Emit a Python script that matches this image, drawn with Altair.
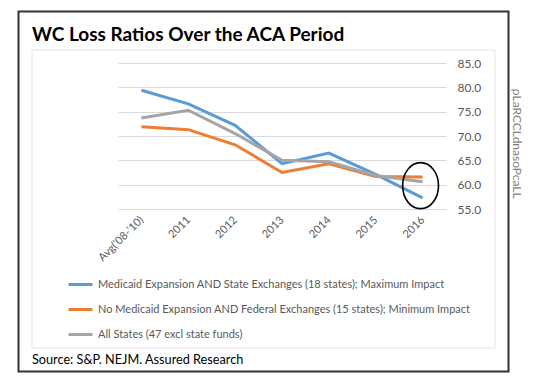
import altair as alt
import pandas as pd

# ---- data ----
periods = ["Avg('08-'10)", "2011", "2012", "2013", "2014", "2015", "2016"]
series_names = [
    "Medicaid Expansion AND State Exchanges (18 states); Maximum Impact",
    "No Medicaid Expansion AND Federal Exchanges (15 states); Minimum Impact",
    "All States (47 excl state funds)",
]
medicaid_max = [79.4, 76.6, 72.2, 64.3, 66.5, 62.1, 57.3]
no_medicaid_min = [71.9, 71.3, 68.2, 62.5, 64.3, 61.7, 61.6]
all_states = [73.7, 75.3, 70.5, 65.0, 64.7, 61.9, 60.6]
series_colors = ["#5B9BD5", "#ED7D31", "#A5A5A5"]
y_ticks = [55, 60, 65, 70, 75, 80, 85]

title_text = "WC Loss Ratios Over the ACA Period"
source_text = "Source: S&P. NEJM. Assured Research"
side_text = "\u03c1LaRCCLdnasoPcaLL"
highlight_period = "2016"
highlight_value = 59.8

FONT = "Lato"
GREY_TXT = "#595959"

rows = []
for name, vals in zip(series_names, [medicaid_max, no_medicaid_min, all_states]):
    for p, v in zip(periods, vals):
        rows.append({"period": p, "value": v, "series": name})
df = pd.DataFrame(rows)

one = pd.DataFrame({"k": [0]})

x_axis = alt.Axis(title=None, labelAngle=-45, labelAlign="right",
                  labelBaseline="middle", labelPadding=9,
                  domain=False, ticks=False, grid=False,
                  labelFont=FONT, labelFontSize=11, labelColor=GREY_TXT)
y_axis = alt.Axis(title=None, orient="right", values=y_ticks, format=".1f",
                  domain=False, ticks=False, labelPadding=11,
                  labelOverlap=False, tickCount=7,
                  gridColor="#d9d9d9", gridWidth=1,
                  labelFont=FONT, labelFontSize=12, labelColor=GREY_TXT)
y_scale = alt.Scale(domain=[55, 85], nice=False, zero=False)

lines = alt.Chart(df).mark_line(strokeWidth=3).encode(
    x=alt.X("period:N", sort=periods, axis=x_axis),
    y=alt.Y("value:Q", scale=y_scale, axis=y_axis),
    color=alt.Color("series:N",
                    scale=alt.Scale(domain=series_names, range=series_colors),
                    legend=alt.Legend(title=None, orient="none", legendX=-51, legendY=208,
                                      symbolType="stroke", symbolSize=576,
                                      symbolStrokeWidth=3, labelFont=FONT,
                                      labelFontSize=11, labelColor=GREY_TXT,
                                      labelOffset=4, rowPadding=5, padding=0,
                                      labelLimit=600)),
    order=alt.Order("series_order:Q"),
).transform_calculate(
    series_order="indexof(%s, datum.series)" % str(series_names)
)

ellipse_df = pd.DataFrame({"period": [highlight_period], "value": [highlight_value]})
ellipse = alt.Chart(ellipse_df).mark_point(
    shape="M0,-1A0.78,1,0,1,0,0,1A0.78,1,0,1,0,0,-1Z",
    size=2116, filled=False, stroke="black", strokeWidth=1.6, opacity=1, xOffset=-2,
).encode(x=alt.X("period:N", sort=periods, axis=x_axis),
         y=alt.Y("value:Q", scale=y_scale, axis=y_axis))

outer = alt.Chart(one).mark_rect(fillOpacity=0, stroke="#333333", strokeWidth=2).encode(
    x=alt.value(-99.5), x2=alt.value(390.5), y=alt.value(-51.5), y2=alt.value(308.5))
inner = alt.Chart(one).mark_rect(fillOpacity=0, stroke="#e4e4e4", strokeWidth=1).encode(
    x=alt.value(-86), x2=alt.value(377), y=alt.value(-13), y2=alt.value(285))

title = alt.Chart(pd.DataFrame({"t": [title_text]})).mark_text(
    align="left", baseline="alphabetic", font=FONT, fontSize=19, fontWeight="bold",
    color="black").encode(x=alt.value(-86), y=alt.value(-22.5), text="t:N")
source = alt.Chart(pd.DataFrame({"t": [source_text]})).mark_text(
    align="left", baseline="alphabetic", font=FONT, fontSize=12.7,
    color="black").encode(x=alt.value(-86), y=alt.value(300.7), text="t:N")
side = alt.Chart(pd.DataFrame({"t": [side_text]})).mark_text(
    align="center", baseline="middle", font=FONT, fontSize=12, angle=90,
    color="#7f7f7f").encode(x=alt.value(399), y=alt.value(80.7), text="t:N")

chart = alt.layer(lines, ellipse, outer, inner, title, source, side).properties(
    width=328, height=146,
    autosize=alt.AutoSizeParams(type="none"),
    padding={"left": 110, "top": 55, "right": 96, "bottom": 168},
    background="white",
).configure_view(stroke=None)

chart.save("out.html", embed_options={"renderer": "svg", "actions": False})
